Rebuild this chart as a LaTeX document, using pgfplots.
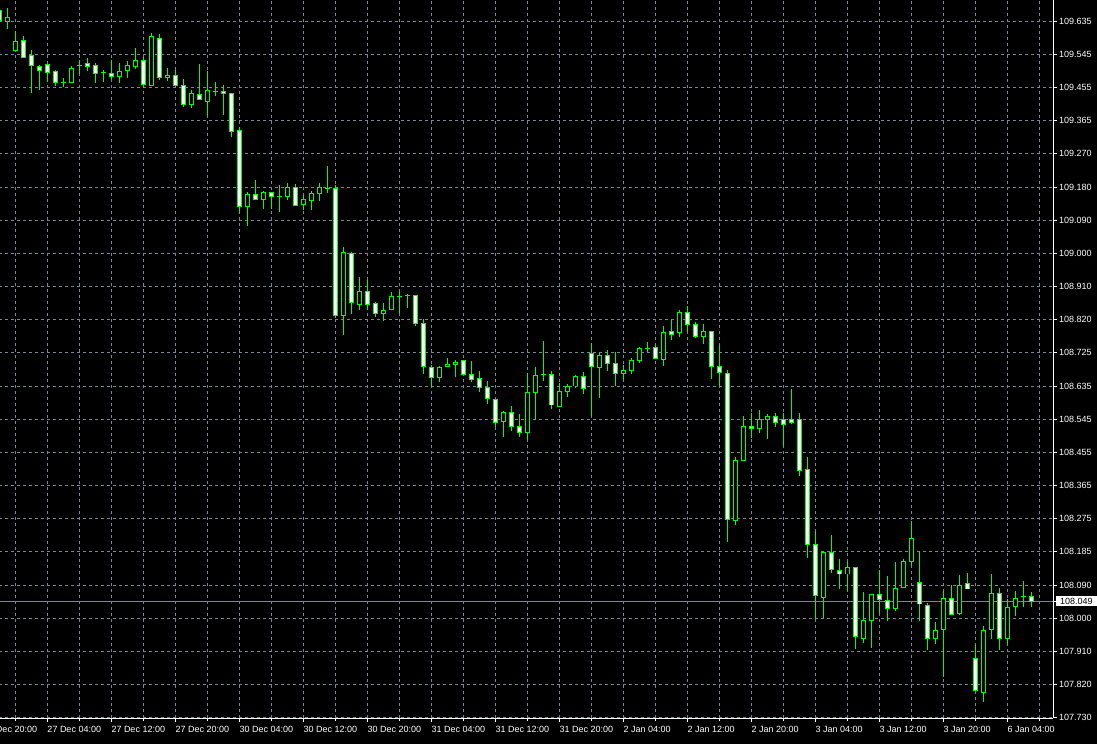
\documentclass[border=0pt]{standalone}
\usepackage{fontspec}
\setmainfont{Liberation Sans}
\usepackage{pgfplots}
\usepackage{pgfplotstable}
\pgfplotsset{compat=1.18}
\definecolor{lsg}{RGB}{119,136,153}
\definecolor{candle}{RGB}{0,255,0}
\pgfplotstableread{
i O H L C
0 109.665 109.679 109.627 109.636
1 109.634 109.671 109.614 109.645
2 109.554 109.607 109.554 109.580
3 109.583 109.594 109.536 109.536
4 109.542 109.556 109.439 109.513
5 109.512 109.515 109.445 109.499
6 109.515 109.517 109.469 109.494
7 109.498 109.500 109.457 109.466
8 109.467 109.479 109.454 109.466
9 109.466 109.512 109.466 109.506
10 109.513 109.528 109.490 109.513
11 109.518 109.534 109.499 109.510
12 109.514 109.519 109.466 109.491
13 109.494 109.501 109.469 109.494
14 109.492 109.528 109.476 109.483
15 109.483 109.519 109.466 109.498
16 109.499 109.526 109.479 109.514
17 109.510 109.561 109.505 109.528
18 109.528 109.537 109.451 109.462
19 109.459 109.601 109.459 109.594
20 109.588 109.599 109.474 109.481
21 109.481 109.507 109.472 109.487
22 109.487 109.501 109.459 109.459
23 109.459 109.477 109.401 109.406
24 109.406 109.445 109.397 109.436
25 109.435 109.518 109.421 109.421
26 109.414 109.498 109.376 109.446
27 109.442 109.468 109.431 109.442
28 109.443 109.460 109.378 109.437
29 109.437 109.437 109.319 109.333
30 109.337 109.346 109.110 109.128
31 109.128 109.168 109.075 109.162
32 109.162 109.201 109.148 109.148
33 109.148 109.171 109.121 109.167
34 109.167 109.168 109.120 109.156
35 109.156 109.187 109.114 109.156
36 109.155 109.193 109.146 109.181
37 109.181 109.190 109.131 109.131
38 109.134 109.160 109.119 109.146
39 109.144 109.170 109.117 109.164
40 109.163 109.193 109.144 109.181
41 109.178 109.239 109.166 109.178
42 109.178 109.187 108.823 108.830
43 108.830 109.018 108.777 109.003
44 109.000 109.003 108.834 108.864
45 108.860 108.936 108.845 108.896
46 108.896 108.927 108.845 108.861
47 108.862 108.867 108.827 108.835
48 108.835 108.864 108.816 108.844
49 108.847 108.894 108.847 108.883
50 108.883 108.897 108.836 108.883
51 108.885 108.889 108.851 108.885
52 108.885 108.887 108.800 108.809
53 108.809 108.820 108.669 108.689
54 108.689 108.695 108.634 108.660
55 108.660 108.692 108.648 108.689
56 108.689 108.714 108.689 108.697
57 108.696 108.709 108.663 108.702
58 108.706 108.706 108.666 108.669
59 108.669 108.706 108.648 108.656
60 108.658 108.679 108.622 108.633
61 108.634 108.651 108.588 108.604
62 108.601 108.601 108.524 108.538
63 108.540 108.569 108.499 108.566
64 108.566 108.583 108.513 108.526
65 108.527 108.560 108.499 108.510
66 108.510 108.674 108.490 108.620
67 108.620 108.689 108.545 108.667
68 108.668 108.760 108.652 108.668
69 108.669 108.679 108.575 108.585
70 108.581 108.645 108.581 108.623
71 108.622 108.643 108.608 108.637
72 108.637 108.668 108.633 108.664
73 108.664 108.676 108.615 108.631
74 108.727 108.754 108.554 108.690
75 108.687 108.727 108.603 108.722
76 108.721 108.736 108.679 108.699
77 108.699 108.730 108.636 108.672
78 108.671 108.694 108.654 108.679
79 108.680 108.713 108.671 108.708
80 108.708 108.745 108.700 108.741
81 108.739 108.758 108.729 108.739
82 108.743 108.750 108.713 108.713
83 108.710 108.801 108.692 108.784
84 108.786 108.820 108.763 108.779
85 108.782 108.845 108.772 108.839
86 108.839 108.856 108.786 108.806
87 108.806 108.812 108.769 108.773
88 108.772 108.807 108.753 108.787
89 108.787 108.787 108.656 108.691
90 108.690 108.749 108.636 108.675
91 108.672 108.681 108.212 108.273
92 108.270 108.443 108.258 108.434
93 108.433 108.554 108.431 108.527
94 108.527 108.563 108.495 108.522
95 108.522 108.572 108.510 108.546
96 108.546 108.560 108.492 108.555
97 108.555 108.562 108.526 108.538
98 108.545 108.563 108.474 108.533
99 108.545 108.629 108.532 108.538
100 108.545 108.564 108.392 108.407
101 108.408 108.443 108.167 108.205
102 108.205 108.241 108.001 108.063
103 108.059 108.185 108.003 108.183
104 108.183 108.230 108.126 108.135
105 108.134 108.165 108.082 108.123
106 108.123 108.155 108.078 108.142
107 108.142 108.142 107.918 107.951
108 107.948 108.075 107.934 107.995
109 107.995 108.068 107.922 108.068
110 108.068 108.135 108.016 108.053
111 108.050 108.119 107.996 108.030
112 108.030 108.157 108.023 108.085
113 108.085 108.165 108.085 108.158
114 108.157 108.269 108.144 108.221
115 108.101 108.182 107.996 108.041
116 108.038 108.044 107.916 107.948
117 107.948 107.991 107.932 107.970
118 107.970 108.077 107.841 108.057
119 108.057 108.094 108.012 108.012
120 108.015 108.121 108.012 108.093
121 108.096 108.127 108.082 108.082
122 107.891 107.930 107.805 107.805
123 107.799 107.982 107.772 107.970
124 107.970 108.124 107.946 108.069
125 108.069 108.085 107.916 107.948
126 107.948 108.055 107.930 108.033
127 108.033 108.077 108.007 108.057
128 108.062 108.105 108.034 108.062
129 108.063 108.075 108.033 108.049
}\candles
\begin{document}
\begin{tikzpicture}
\fill[black] (0,0) rectangle (1097pt,744pt);
\useasboundingbox (0,0) rectangle (1097pt,744pt);
\clip (0,0) rectangle (1097pt,744pt);
\begin{axis}[
  at={(-24.7pt,26pt)}, anchor=south west,
  scale only axis, width=1077.7pt, height=718pt,
  xmin=-3, xmax=131.7125, ymin=107.7295, ymax=109.6924,
  axis x line*=bottom, axis y line*=right,
  axis line style={white, line width=0.8pt, -},
  xtick={-2,6,...,126},
  xticklabels={26 Dec 20:00,27 Dec 04:00,27 Dec 12:00,27 Dec 20:00,30 Dec 04:00,30 Dec 12:00,30 Dec 20:00,31 Dec 04:00,31 Dec 12:00,31 Dec 20:00,2 Jan 04:00,2 Jan 12:00,2 Jan 20:00,3 Jan 04:00,3 Jan 12:00,3 Jan 20:00,6 Jan 04:00},
  minor xtick={2,10,...,130},
  ytick={109.635,109.5443,109.4536,109.3629,109.2721,109.1814,109.0907,109.0000,108.9093,108.8186,108.7279,108.6371,108.5464,108.4557,108.3650,108.2743,108.1836,108.0929,108.0021,107.9114,107.8207,107.7300},
  yticklabels={109.635,109.545,109.455,109.365,109.270,109.180,109.090,109.000,108.910,108.820,108.725,108.635,108.545,108.455,108.365,108.275,108.185,108.090,108.000,107.910,107.820,107.730},
  grid=both,
  major grid style={lsg, line width=0.8pt, dash pattern=on 3pt off 3pt},
  minor grid style={lsg, line width=0.8pt, dash pattern=on 3pt off 3pt},
  tick align=outside,
  major tick length=4pt, minor tick length=3pt,
  tick style={white, line width=0.8pt},
  xticklabel style={text=white, anchor=north west, inner sep=0pt, yshift=-4pt, font=\fontsize{9}{10}\selectfont},
  yticklabel style={text=white, anchor=west, inner sep=0pt, xshift=2pt, font=\fontsize{9}{10}\selectfont},
  extra y ticks={108.049},
  extra y tick labels={108.049},
  extra y tick style={grid=major, major grid style={lsg, solid, line width=0.8pt},
    yticklabel style={fill=white, text=black, inner xsep=4pt, inner ysep=1.5pt, xshift=-3pt}},
]
% wicks
\addplot[draw=none, mark=none, forget plot,
  error bars/.cd, y dir=plus, y explicit, error mark=none,
  error bar style={draw=candle, line width=1pt, solid}]
  table[x=i, y=L, y error plus expr={\thisrow{H}-\thisrow{L}}]{\candles};
% body outline
\addplot[draw=none, mark=none, forget plot,
  error bars/.cd, y dir=plus, y explicit, error mark=none,
  error bar style={draw=candle, line width=5pt, solid, line cap=butt}]
  table[x=i, y expr={min(\thisrow{O},\thisrow{C})-0.0012}, y error plus expr={max(abs(\thisrow{O}-\thisrow{C}),0.0001)+0.0024}]{\candles};
% bear bodies (white)
\addplot[draw=none, mark=none, forget plot, unbounded coords=discard,
  restrict expr to domain={\thisrow{O}-\thisrow{C}}{0.0045:10},
  error bars/.cd, y dir=plus, y explicit, error mark=none,
  error bar style={draw=white, line width=3pt, solid, line cap=butt}]
  table[x=i, y expr={\thisrow{C}+0.0015}, y error plus expr={\thisrow{O}-\thisrow{C}-0.0030}]{\candles};
% bull bodies (black)
\addplot[draw=none, mark=none, forget plot, unbounded coords=discard,
  restrict expr to domain={\thisrow{C}-\thisrow{O}}{0.0045:10},
  error bars/.cd, y dir=plus, y explicit, error mark=none,
  error bar style={draw=black, line width=3pt, solid, line cap=butt}]
  table[x=i, y expr={\thisrow{O}+0.0015}, y error plus expr={\thisrow{C}-\thisrow{O}-0.0030}]{\candles};
\end{axis}
\end{tikzpicture}
\end{document}
